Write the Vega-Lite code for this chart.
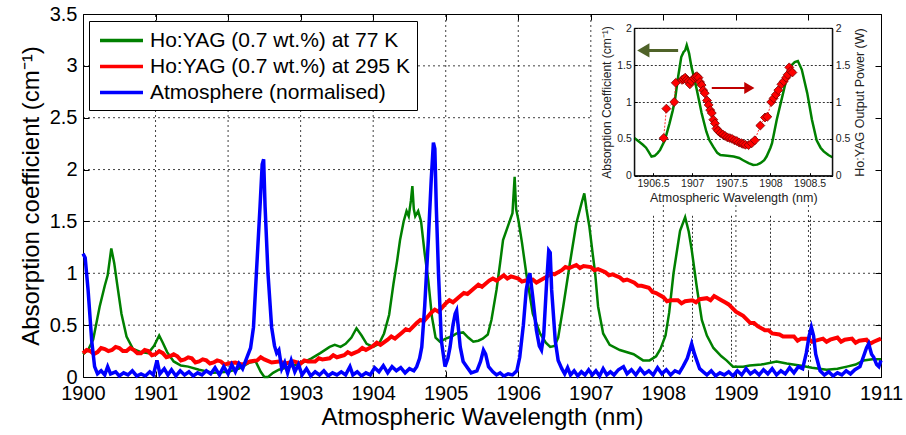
{
"$schema": "https://vega.github.io/schema/vega-lite/v6.json",
"width": 798, "height": 363,
"autosize": {"type": "none"},
"padding": {"left": 83, "top": 14, "right": 25, "bottom": 58},
"background": "white",
"config": {"font": "Liberation Sans", "view": {"stroke": "black", "strokeWidth": 1},
  "axis": {"labelColor": "black", "titleColor": "black", "tickColor": "black", "domainColor": "black", "labelFont": "Liberation Sans", "titleFont": "Liberation Sans", "titleFontWeight": "normal"}},
"datasets": {
"vfull": [{"w":1901},{"w":1902},{"w":1903},{"w":1904},{"w":1905},{"w":1906},{"w":1907}],
"vshort": [{"w":1908},{"w":1909},{"w":1910}],
"hfull": [{"v":0.5},{"v":1},{"v":1.5}],
"hshort": [{"v":2},{"v":2.5},{"v":3}],
"main": [
{"s":"g","w":1900.00,"a":0.22},{"s":"g","w":1900.07,"a":0.26},{"s":"g","w":1900.14,"a":0.36},{"s":"g","w":1900.23,"a":0.68},{"s":"g","w":1900.30,"a":0.88},{"s":"g","w":1900.34,"a":0.98},{"s":"g","w":1900.39,"a":1.24},{"s":"g","w":1900.43,"a":1.10},{"s":"g","w":1900.47,"a":0.90},{"s":"g","w":1900.53,"a":0.61},{"s":"g","w":1900.60,"a":0.39},{"s":"g","w":1900.69,"a":0.27},{"s":"g","w":1900.80,"a":0.24},{"s":"g","w":1900.90,"a":0.23},{"s":"g","w":1900.98,"a":0.30},{"s":"g","w":1901.05,"a":0.40},{"s":"g","w":1901.10,"a":0.33},{"s":"g","w":1901.16,"a":0.24},{"s":"g","w":1901.25,"a":0.15},{"s":"g","w":1901.35,"a":0.11},{"s":"g","w":1901.45,"a":0.10},{"s":"g","w":1901.60,"a":0.07},{"s":"g","w":1901.80,"a":0.04},{"s":"g","w":1902.00,"a":0.05},{"s":"g","w":1902.15,"a":0.08},{"s":"g","w":1902.30,"a":0.14},{"s":"g","w":1902.38,"a":0.15},{"s":"g","w":1902.45,"a":0.05},{"s":"g","w":1902.50,"a":0.00},{"s":"g","w":1902.55,"a":0.00},{"s":"g","w":1902.62,"a":0.04},{"s":"g","w":1902.70,"a":0.07},{"s":"g","w":1902.85,"a":0.10},{"s":"g","w":1903.00,"a":0.13},{"s":"g","w":1903.15,"a":0.18},{"s":"g","w":1903.27,"a":0.23},{"s":"g","w":1903.40,"a":0.29},{"s":"g","w":1903.47,"a":0.31},{"s":"g","w":1903.55,"a":0.29},{"s":"g","w":1903.62,"a":0.32},{"s":"g","w":1903.70,"a":0.38},{"s":"g","w":1903.77,"a":0.47},{"s":"g","w":1903.84,"a":0.40},{"s":"g","w":1903.91,"a":0.32},{"s":"g","w":1904.00,"a":0.29},{"s":"g","w":1904.08,"a":0.32},{"s":"g","w":1904.15,"a":0.42},{"s":"g","w":1904.22,"a":0.60},{"s":"g","w":1904.28,"a":0.90},{"s":"g","w":1904.33,"a":1.12},{"s":"g","w":1904.37,"a":1.32},{"s":"g","w":1904.42,"a":1.50},{"s":"g","w":1904.46,"a":1.60},{"s":"g","w":1904.49,"a":1.55},{"s":"g","w":1904.52,"a":1.70},{"s":"g","w":1904.54,"a":1.84},{"s":"g","w":1904.56,"a":1.62},{"s":"g","w":1904.58,"a":1.55},{"s":"g","w":1904.62,"a":1.60},{"s":"g","w":1904.66,"a":1.50},{"s":"g","w":1904.71,"a":1.19},{"s":"g","w":1904.76,"a":0.93},{"s":"g","w":1904.81,"a":0.58},{"s":"g","w":1904.86,"a":0.38},{"s":"g","w":1904.92,"a":0.34},{"s":"g","w":1905.00,"a":0.37},{"s":"g","w":1905.08,"a":0.39},{"s":"g","w":1905.15,"a":0.42},{"s":"g","w":1905.24,"a":0.43},{"s":"g","w":1905.31,"a":0.38},{"s":"g","w":1905.38,"a":0.34},{"s":"g","w":1905.45,"a":0.35},{"s":"g","w":1905.51,"a":0.37},{"s":"g","w":1905.58,"a":0.41},{"s":"g","w":1905.63,"a":0.55},{"s":"g","w":1905.70,"a":0.84},{"s":"g","w":1905.75,"a":1.10},{"s":"g","w":1905.79,"a":1.32},{"s":"g","w":1905.86,"a":1.46},{"s":"g","w":1905.92,"a":1.58},{"s":"g","w":1905.95,"a":1.93},{"s":"g","w":1905.97,"a":1.62},{"s":"g","w":1906.00,"a":1.52},{"s":"g","w":1906.05,"a":1.30},{"s":"g","w":1906.11,"a":1.00},{"s":"g","w":1906.20,"a":0.61},{"s":"g","w":1906.30,"a":0.42},{"s":"g","w":1906.38,"a":0.33},{"s":"g","w":1906.44,"a":0.29},{"s":"g","w":1906.50,"a":0.30},{"s":"g","w":1906.55,"a":0.38},{"s":"g","w":1906.62,"a":0.68},{"s":"g","w":1906.71,"a":1.09},{"s":"g","w":1906.80,"a":1.48},{"s":"g","w":1906.87,"a":1.67},{"s":"g","w":1906.91,"a":1.77},{"s":"g","w":1906.94,"a":1.62},{"s":"g","w":1906.98,"a":1.45},{"s":"g","w":1907.02,"a":1.22},{"s":"g","w":1907.06,"a":1.00},{"s":"g","w":1907.10,"a":0.68},{"s":"g","w":1907.17,"a":0.42},{"s":"g","w":1907.26,"a":0.31},{"s":"g","w":1907.40,"a":0.26},{"s":"g","w":1907.59,"a":0.22},{"s":"g","w":1907.72,"a":0.16},{"s":"g","w":1907.81,"a":0.16},{"s":"g","w":1907.90,"a":0.20},{"s":"g","w":1907.96,"a":0.27},{"s":"g","w":1908.03,"a":0.40},{"s":"g","w":1908.08,"a":0.62},{"s":"g","w":1908.14,"a":1.00},{"s":"g","w":1908.23,"a":1.41},{"s":"g","w":1908.30,"a":1.54},{"s":"g","w":1908.35,"a":1.40},{"s":"g","w":1908.39,"a":1.23},{"s":"g","w":1908.46,"a":0.87},{"s":"g","w":1908.53,"a":0.55},{"s":"g","w":1908.60,"a":0.40},{"s":"g","w":1908.69,"a":0.28},{"s":"g","w":1908.80,"a":0.20},{"s":"g","w":1908.87,"a":0.16},{"s":"g","w":1908.96,"a":0.10},{"s":"g","w":1909.10,"a":0.10},{"s":"g","w":1909.19,"a":0.11},{"s":"g","w":1909.35,"a":0.12},{"s":"g","w":1909.56,"a":0.15},{"s":"g","w":1909.70,"a":0.13},{"s":"g","w":1909.88,"a":0.11},{"s":"g","w":1910.05,"a":0.09},{"s":"g","w":1910.25,"a":0.07},{"s":"g","w":1910.40,"a":0.08},{"s":"g","w":1910.53,"a":0.10},{"s":"g","w":1910.65,"a":0.12},{"s":"g","w":1910.76,"a":0.16},{"s":"g","w":1910.88,"a":0.17},{"s":"g","w":1911.00,"a":0.17},
{"s":"r","w":1900.0,"a":0.23},{"s":"r","w":1900.05,"a":0.26},{"s":"r","w":1900.1,"a":0.25},{"s":"r","w":1900.15,"a":0.22},{"s":"r","w":1900.2,"a":0.24},{"s":"r","w":1900.25,"a":0.28},{"s":"r","w":1900.3,"a":0.27},{"s":"r","w":1900.35,"a":0.25},{"s":"r","w":1900.4,"a":0.26},{"s":"r","w":1900.45,"a":0.29},{"s":"r","w":1900.5,"a":0.28},{"s":"r","w":1900.55,"a":0.25},{"s":"r","w":1900.6,"a":0.25},{"s":"r","w":1900.65,"a":0.28},{"s":"r","w":1900.7,"a":0.26},{"s":"r","w":1900.75,"a":0.23},{"s":"r","w":1900.8,"a":0.23},{"s":"r","w":1900.85,"a":0.26},{"s":"r","w":1900.9,"a":0.25},{"s":"r","w":1900.95,"a":0.21},{"s":"r","w":1901.0,"a":0.22},{"s":"r","w":1901.05,"a":0.25},{"s":"r","w":1901.1,"a":0.23},{"s":"r","w":1901.15,"a":0.19},{"s":"r","w":1901.2,"a":0.20},{"s":"r","w":1901.25,"a":0.22},{"s":"r","w":1901.3,"a":0.20},{"s":"r","w":1901.35,"a":0.16},{"s":"r","w":1901.4,"a":0.17},{"s":"r","w":1901.45,"a":0.19},{"s":"r","w":1901.5,"a":0.18},{"s":"r","w":1901.55,"a":0.14},{"s":"r","w":1901.6,"a":0.15},{"s":"r","w":1901.65,"a":0.17},{"s":"r","w":1901.7,"a":0.16},{"s":"r","w":1901.75,"a":0.13},{"s":"r","w":1901.8,"a":0.14},{"s":"r","w":1901.85,"a":0.16},{"s":"r","w":1901.9,"a":0.15},{"s":"r","w":1901.95,"a":0.12},{"s":"r","w":1902.0,"a":0.13},{"s":"r","w":1902.1,"a":0.14},{"s":"r","w":1902.2,"a":0.12},{"s":"r","w":1902.3,"a":0.15},{"s":"r","w":1902.4,"a":0.16},{"s":"r","w":1902.45,"a":0.19},{"s":"r","w":1902.5,"a":0.17},{"s":"r","w":1902.6,"a":0.14},{"s":"r","w":1902.7,"a":0.15},{"s":"r","w":1902.8,"a":0.13},{"s":"r","w":1902.9,"a":0.15},{"s":"r","w":1903.0,"a":0.13},{"s":"r","w":1903.05,"a":0.16},{"s":"r","w":1903.1,"a":0.15},{"s":"r","w":1903.2,"a":0.15},{"s":"r","w":1903.25,"a":0.18},{"s":"r","w":1903.3,"a":0.17},{"s":"r","w":1903.4,"a":0.18},{"s":"r","w":1903.45,"a":0.21},{"s":"r","w":1903.5,"a":0.19},{"s":"r","w":1903.6,"a":0.21},{"s":"r","w":1903.65,"a":0.24},{"s":"r","w":1903.7,"a":0.22},{"s":"r","w":1903.8,"a":0.25},{"s":"r","w":1903.85,"a":0.28},{"s":"r","w":1903.9,"a":0.26},{"s":"r","w":1904.0,"a":0.30},{"s":"r","w":1904.05,"a":0.33},{"s":"r","w":1904.1,"a":0.31},{"s":"r","w":1904.2,"a":0.36},{"s":"r","w":1904.25,"a":0.39},{"s":"r","w":1904.3,"a":0.37},{"s":"r","w":1904.4,"a":0.43},{"s":"r","w":1904.45,"a":0.46},{"s":"r","w":1904.5,"a":0.45},{"s":"r","w":1904.6,"a":0.52},{"s":"r","w":1904.65,"a":0.55},{"s":"r","w":1904.7,"a":0.54},{"s":"r","w":1904.8,"a":0.62},{"s":"r","w":1904.85,"a":0.65},{"s":"r","w":1904.9,"a":0.63},{"s":"r","w":1905.0,"a":0.71},{"s":"r","w":1905.05,"a":0.74},{"s":"r","w":1905.1,"a":0.72},{"s":"r","w":1905.2,"a":0.78},{"s":"r","w":1905.25,"a":0.81},{"s":"r","w":1905.3,"a":0.80},{"s":"r","w":1905.4,"a":0.86},{"s":"r","w":1905.45,"a":0.89},{"s":"r","w":1905.5,"a":0.87},{"s":"r","w":1905.6,"a":0.93},{"s":"r","w":1905.65,"a":0.95},{"s":"r","w":1905.7,"a":0.93},{"s":"r","w":1905.8,"a":0.98},{"s":"r","w":1905.85,"a":0.95},{"s":"r","w":1905.9,"a":0.97},{"s":"r","w":1906.0,"a":0.95},{"s":"r","w":1906.05,"a":0.92},{"s":"r","w":1906.1,"a":0.93},{"s":"r","w":1906.2,"a":0.94},{"s":"r","w":1906.25,"a":0.91},{"s":"r","w":1906.3,"a":0.93},{"s":"r","w":1906.4,"a":0.97},{"s":"r","w":1906.45,"a":1.00},{"s":"r","w":1906.5,"a":0.99},{"s":"r","w":1906.6,"a":1.03},{"s":"r","w":1906.65,"a":1.06},{"s":"r","w":1906.7,"a":1.05},{"s":"r","w":1906.8,"a":1.08},{"s":"r","w":1906.85,"a":1.05},{"s":"r","w":1906.9,"a":1.07},{"s":"r","w":1907.0,"a":1.06},{"s":"r","w":1907.05,"a":1.03},{"s":"r","w":1907.1,"a":1.04},{"s":"r","w":1907.2,"a":1.01},{"s":"r","w":1907.25,"a":0.98},{"s":"r","w":1907.3,"a":0.99},{"s":"r","w":1907.4,"a":0.96},{"s":"r","w":1907.45,"a":0.93},{"s":"r","w":1907.5,"a":0.94},{"s":"r","w":1907.6,"a":0.91},{"s":"r","w":1907.65,"a":0.88},{"s":"r","w":1907.7,"a":0.88},{"s":"r","w":1907.8,"a":0.86},{"s":"r","w":1907.85,"a":0.82},{"s":"r","w":1907.9,"a":0.81},{"s":"r","w":1908.0,"a":0.77},{"s":"r","w":1908.05,"a":0.73},{"s":"r","w":1908.1,"a":0.74},{"s":"r","w":1908.2,"a":0.74},{"s":"r","w":1908.25,"a":0.71},{"s":"r","w":1908.3,"a":0.73},{"s":"r","w":1908.4,"a":0.74},{"s":"r","w":1908.45,"a":0.72},{"s":"r","w":1908.5,"a":0.75},{"s":"r","w":1908.6,"a":0.76},{"s":"r","w":1908.65,"a":0.74},{"s":"r","w":1908.7,"a":0.78},{"s":"r","w":1908.8,"a":0.74},{"s":"r","w":1908.85,"a":0.72},{"s":"r","w":1908.9,"a":0.70},{"s":"r","w":1909.0,"a":0.63},{"s":"r","w":1909.05,"a":0.61},{"s":"r","w":1909.1,"a":0.59},{"s":"r","w":1909.2,"a":0.52},{"s":"r","w":1909.25,"a":0.52},{"s":"r","w":1909.3,"a":0.49},{"s":"r","w":1909.4,"a":0.45},{"s":"r","w":1909.45,"a":0.45},{"s":"r","w":1909.5,"a":0.42},{"s":"r","w":1909.6,"a":0.41},{"s":"r","w":1909.65,"a":0.39},{"s":"r","w":1909.7,"a":0.39},{"s":"r","w":1909.8,"a":0.39},{"s":"r","w":1909.85,"a":0.35},{"s":"r","w":1909.9,"a":0.37},{"s":"r","w":1910.0,"a":0.37},{"s":"r","w":1910.05,"a":0.34},{"s":"r","w":1910.1,"a":0.35},{"s":"r","w":1910.2,"a":0.37},{"s":"r","w":1910.25,"a":0.34},{"s":"r","w":1910.3,"a":0.36},{"s":"r","w":1910.4,"a":0.38},{"s":"r","w":1910.45,"a":0.34},{"s":"r","w":1910.5,"a":0.36},{"s":"r","w":1910.6,"a":0.37},{"s":"r","w":1910.65,"a":0.33},{"s":"r","w":1910.7,"a":0.35},{"s":"r","w":1910.8,"a":0.36},{"s":"r","w":1910.85,"a":0.32},{"s":"r","w":1910.9,"a":0.34},{"s":"r","w":1911.0,"a":0.37},
{"s":"b","w":1900.00,"a":1.19},{"s":"b","w":1900.03,"a":1.15},{"s":"b","w":1900.07,"a":0.84},{"s":"b","w":1900.12,"a":0.35},{"s":"b","w":1900.16,"a":0.10},{"s":"b","w":1900.20,"a":0.03},{"s":"b","w":1900.25,"a":0.06},{"s":"b","w":1900.30,"a":0.02},{"s":"b","w":1900.34,"a":0.10},{"s":"b","w":1900.38,"a":0.03},{"s":"b","w":1900.45,"a":0.05},{"s":"b","w":1900.50,"a":0.01},{"s":"b","w":1900.56,"a":0.04},{"s":"b","w":1900.62,"a":0.02},{"s":"b","w":1900.68,"a":0.06},{"s":"b","w":1900.74,"a":0.01},{"s":"b","w":1900.80,"a":0.03},{"s":"b","w":1900.86,"a":0.01},{"s":"b","w":1900.92,"a":0.05},{"s":"b","w":1900.97,"a":0.02},{"s":"b","w":1901.02,"a":0.16},{"s":"b","w":1901.06,"a":0.03},{"s":"b","w":1901.12,"a":0.08},{"s":"b","w":1901.17,"a":0.02},{"s":"b","w":1901.22,"a":0.07},{"s":"b","w":1901.28,"a":0.01},{"s":"b","w":1901.34,"a":0.06},{"s":"b","w":1901.40,"a":0.02},{"s":"b","w":1901.46,"a":0.05},{"s":"b","w":1901.52,"a":0.01},{"s":"b","w":1901.58,"a":0.04},{"s":"b","w":1901.64,"a":0.02},{"s":"b","w":1901.70,"a":0.06},{"s":"b","w":1901.76,"a":0.03},{"s":"b","w":1901.82,"a":0.09},{"s":"b","w":1901.88,"a":0.02},{"s":"b","w":1901.94,"a":0.10},{"s":"b","w":1902.00,"a":0.03},{"s":"b","w":1902.05,"a":0.12},{"s":"b","w":1902.10,"a":0.05},{"s":"b","w":1902.15,"a":0.13},{"s":"b","w":1902.20,"a":0.08},{"s":"b","w":1902.26,"a":0.19},{"s":"b","w":1902.31,"a":0.28},{"s":"b","w":1902.35,"a":0.48},{"s":"b","w":1902.39,"a":1.00},{"s":"b","w":1902.44,"a":1.64},{"s":"b","w":1902.47,"a":2.05},{"s":"b","w":1902.49,"a":2.10},{"s":"b","w":1902.51,"a":1.64},{"s":"b","w":1902.55,"a":1.00},{"s":"b","w":1902.60,"a":0.48},{"s":"b","w":1902.64,"a":0.30},{"s":"b","w":1902.67,"a":0.23},{"s":"b","w":1902.70,"a":0.26},{"s":"b","w":1902.74,"a":0.08},{"s":"b","w":1902.78,"a":0.14},{"s":"b","w":1902.82,"a":0.04},{"s":"b","w":1902.87,"a":0.16},{"s":"b","w":1902.92,"a":0.05},{"s":"b","w":1902.97,"a":0.12},{"s":"b","w":1903.02,"a":0.02},{"s":"b","w":1903.08,"a":0.08},{"s":"b","w":1903.14,"a":0.01},{"s":"b","w":1903.20,"a":0.05},{"s":"b","w":1903.26,"a":0.02},{"s":"b","w":1903.32,"a":0.06},{"s":"b","w":1903.38,"a":0.01},{"s":"b","w":1903.44,"a":0.04},{"s":"b","w":1903.50,"a":0.02},{"s":"b","w":1903.56,"a":0.05},{"s":"b","w":1903.62,"a":0.02},{"s":"b","w":1903.68,"a":0.10},{"s":"b","w":1903.72,"a":0.02},{"s":"b","w":1903.78,"a":0.05},{"s":"b","w":1903.84,"a":0.01},{"s":"b","w":1903.90,"a":0.04},{"s":"b","w":1903.96,"a":0.02},{"s":"b","w":1904.02,"a":0.09},{"s":"b","w":1904.08,"a":0.05},{"s":"b","w":1904.14,"a":0.11},{"s":"b","w":1904.20,"a":0.04},{"s":"b","w":1904.26,"a":0.10},{"s":"b","w":1904.32,"a":0.06},{"s":"b","w":1904.38,"a":0.09},{"s":"b","w":1904.44,"a":0.04},{"s":"b","w":1904.50,"a":0.08},{"s":"b","w":1904.56,"a":0.06},{"s":"b","w":1904.60,"a":0.10},{"s":"b","w":1904.64,"a":0.18},{"s":"b","w":1904.67,"a":0.29},{"s":"b","w":1904.71,"a":0.68},{"s":"b","w":1904.76,"a":1.32},{"s":"b","w":1904.80,"a":1.90},{"s":"b","w":1904.83,"a":2.26},{"s":"b","w":1904.85,"a":2.20},{"s":"b","w":1904.87,"a":1.64},{"s":"b","w":1904.90,"a":1.00},{"s":"b","w":1904.94,"a":0.35},{"s":"b","w":1904.99,"a":0.10},{"s":"b","w":1905.03,"a":0.18},{"s":"b","w":1905.06,"a":0.29},{"s":"b","w":1905.10,"a":0.50},{"s":"b","w":1905.13,"a":0.61},{"s":"b","w":1905.15,"a":0.64},{"s":"b","w":1905.17,"a":0.50},{"s":"b","w":1905.20,"a":0.29},{"s":"b","w":1905.24,"a":0.15},{"s":"b","w":1905.29,"a":0.10},{"s":"b","w":1905.35,"a":0.04},{"s":"b","w":1905.43,"a":0.06},{"s":"b","w":1905.48,"a":0.15},{"s":"b","w":1905.52,"a":0.26},{"s":"b","w":1905.55,"a":0.22},{"s":"b","w":1905.59,"a":0.10},{"s":"b","w":1905.65,"a":0.05},{"s":"b","w":1905.70,"a":0.02},{"s":"b","w":1905.75,"a":0.04},{"s":"b","w":1905.80,"a":0.01},{"s":"b","w":1905.86,"a":0.03},{"s":"b","w":1905.92,"a":0.02},{"s":"b","w":1905.98,"a":0.06},{"s":"b","w":1906.02,"a":0.19},{"s":"b","w":1906.07,"a":0.50},{"s":"b","w":1906.11,"a":0.84},{"s":"b","w":1906.14,"a":0.96},{"s":"b","w":1906.16,"a":1.00},{"s":"b","w":1906.20,"a":0.77},{"s":"b","w":1906.25,"a":0.45},{"s":"b","w":1906.29,"a":0.30},{"s":"b","w":1906.32,"a":0.26},{"s":"b","w":1906.35,"a":0.40},{"s":"b","w":1906.39,"a":0.90},{"s":"b","w":1906.42,"a":1.22},{"s":"b","w":1906.44,"a":1.20},{"s":"b","w":1906.46,"a":0.84},{"s":"b","w":1906.51,"a":0.35},{"s":"b","w":1906.55,"a":0.16},{"s":"b","w":1906.60,"a":0.08},{"s":"b","w":1906.64,"a":0.03},{"s":"b","w":1906.68,"a":0.09},{"s":"b","w":1906.72,"a":0.02},{"s":"b","w":1906.77,"a":0.06},{"s":"b","w":1906.82,"a":0.01},{"s":"b","w":1906.87,"a":0.05},{"s":"b","w":1906.92,"a":0.02},{"s":"b","w":1906.97,"a":0.07},{"s":"b","w":1907.02,"a":0.02},{"s":"b","w":1907.07,"a":0.06},{"s":"b","w":1907.12,"a":0.01},{"s":"b","w":1907.17,"a":0.08},{"s":"b","w":1907.22,"a":0.02},{"s":"b","w":1907.27,"a":0.05},{"s":"b","w":1907.32,"a":0.02},{"s":"b","w":1907.38,"a":0.07},{"s":"b","w":1907.45,"a":0.10},{"s":"b","w":1907.50,"a":0.03},{"s":"b","w":1907.56,"a":0.07},{"s":"b","w":1907.62,"a":0.02},{"s":"b","w":1907.68,"a":0.08},{"s":"b","w":1907.74,"a":0.03},{"s":"b","w":1907.80,"a":0.06},{"s":"b","w":1907.86,"a":0.02},{"s":"b","w":1907.92,"a":0.09},{"s":"b","w":1907.98,"a":0.03},{"s":"b","w":1908.04,"a":0.07},{"s":"b","w":1908.10,"a":0.02},{"s":"b","w":1908.16,"a":0.06},{"s":"b","w":1908.22,"a":0.04},{"s":"b","w":1908.27,"a":0.10},{"s":"b","w":1908.33,"a":0.18},{"s":"b","w":1908.39,"a":0.32},{"s":"b","w":1908.43,"a":0.22},{"s":"b","w":1908.46,"a":0.16},{"s":"b","w":1908.50,"a":0.08},{"s":"b","w":1908.55,"a":0.05},{"s":"b","w":1908.60,"a":0.02},{"s":"b","w":1908.66,"a":0.06},{"s":"b","w":1908.72,"a":0.01},{"s":"b","w":1908.78,"a":0.04},{"s":"b","w":1908.84,"a":0.02},{"s":"b","w":1908.90,"a":0.05},{"s":"b","w":1908.96,"a":0.01},{"s":"b","w":1909.02,"a":0.06},{"s":"b","w":1909.08,"a":0.02},{"s":"b","w":1909.14,"a":0.08},{"s":"b","w":1909.20,"a":0.03},{"s":"b","w":1909.26,"a":0.06},{"s":"b","w":1909.32,"a":0.02},{"s":"b","w":1909.38,"a":0.07},{"s":"b","w":1909.44,"a":0.03},{"s":"b","w":1909.50,"a":0.08},{"s":"b","w":1909.56,"a":0.02},{"s":"b","w":1909.62,"a":0.06},{"s":"b","w":1909.68,"a":0.03},{"s":"b","w":1909.74,"a":0.09},{"s":"b","w":1909.80,"a":0.04},{"s":"b","w":1909.86,"a":0.10},{"s":"b","w":1909.92,"a":0.08},{"s":"b","w":1909.97,"a":0.23},{"s":"b","w":1910.01,"a":0.40},{"s":"b","w":1910.04,"a":0.48},{"s":"b","w":1910.07,"a":0.40},{"s":"b","w":1910.10,"a":0.22},{"s":"b","w":1910.16,"a":0.06},{"s":"b","w":1910.22,"a":0.02},{"s":"b","w":1910.28,"a":0.05},{"s":"b","w":1910.34,"a":0.01},{"s":"b","w":1910.40,"a":0.04},{"s":"b","w":1910.46,"a":0.02},{"s":"b","w":1910.52,"a":0.06},{"s":"b","w":1910.58,"a":0.03},{"s":"b","w":1910.64,"a":0.07},{"s":"b","w":1910.71,"a":0.10},{"s":"b","w":1910.76,"a":0.20},{"s":"b","w":1910.80,"a":0.28},{"s":"b","w":1910.83,"a":0.32},{"s":"b","w":1910.87,"a":0.22},{"s":"b","w":1910.90,"a":0.19},{"s":"b","w":1910.94,"a":0.12},{"s":"b","w":1910.97,"a":0.10},{"s":"b","w":1911.00,"a":0.16}
],
"inset": [
{"w":1906.26,"a":0.51},{"w":1906.31,"a":0.47},{"w":1906.37,"a":0.42},{"w":1906.41,"a":0.38},{"w":1906.44,"a":0.33},{"w":1906.48,"a":0.26},{"w":1906.52,"a":0.27},{"w":1906.56,"a":0.31},{"w":1906.59,"a":0.35},{"w":1906.65,"a":0.48},{"w":1906.71,"a":0.71},{"w":1906.75,"a":0.88},{"w":1906.78,"a":1.03},{"w":1906.82,"a":1.34},{"w":1906.86,"a":1.61},{"w":1906.89,"a":1.68},{"w":1906.91,"a":1.70},{"w":1906.93,"a":1.77},{"w":1906.96,"a":1.66},{"w":1906.99,"a":1.48},{"w":1907.03,"a":1.30},{"w":1907.06,"a":1.16},{"w":1907.12,"a":0.85},{"w":1907.18,"a":0.60},{"w":1907.22,"a":0.48},{"w":1907.27,"a":0.39},{"w":1907.32,"a":0.31},{"w":1907.36,"a":0.28},{"w":1907.45,"a":0.27},{"w":1907.53,"a":0.26},{"w":1907.60,"a":0.24},{"w":1907.65,"a":0.21},{"w":1907.72,"a":0.17},{"w":1907.78,"a":0.145},{"w":1907.83,"a":0.15},{"w":1907.87,"a":0.17},{"w":1907.92,"a":0.21},{"w":1907.95,"a":0.26},{"w":1908.00,"a":0.38},{"w":1908.02,"a":0.44},{"w":1908.08,"a":0.76},{"w":1908.15,"a":1.07},{"w":1908.21,"a":1.34},{"w":1908.27,"a":1.50},{"w":1908.31,"a":1.54},{"w":1908.35,"a":1.556},{"w":1908.40,"a":1.44},{"w":1908.47,"a":1.12},{"w":1908.53,"a":0.76},{"w":1908.59,"a":0.48},{"w":1908.64,"a":0.38},{"w":1908.68,"a":0.33},{"w":1908.74,"a":0.28},{"w":1908.79,"a":0.25}
],
"power": [
{"w":1906.635,"p":0.51},{"w":1906.67,"p":0.91},{"w":1906.77,"p":1.00},{"w":1906.79,"p":1.26},{"w":1906.87,"p":1.30},{"w":1906.89,"p":1.31},{"w":1906.91,"p":1.33},{"w":1906.93,"p":1.30},{"w":1906.95,"p":1.28},{"w":1906.97,"p":1.24},{"w":1906.99,"p":1.28},{"w":1907.02,"p":1.32},{"w":1907.04,"p":1.34},{"w":1907.06,"p":1.35},{"w":1907.08,"p":1.33},{"w":1907.10,"p":1.27},{"w":1907.12,"p":1.23},{"w":1907.14,"p":1.16},{"w":1907.16,"p":1.12},{"w":1907.19,"p":1.02},{"w":1907.21,"p":0.96},{"w":1907.23,"p":0.89},{"w":1907.25,"p":0.85},{"w":1907.27,"p":0.76},{"w":1907.29,"p":0.71},{"w":1907.31,"p":0.64},{"w":1907.33,"p":0.61},{"w":1907.36,"p":0.58},{"w":1907.39,"p":0.56},{"w":1907.42,"p":0.54},{"w":1907.45,"p":0.52},{"w":1907.48,"p":0.51},{"w":1907.51,"p":0.50},{"w":1907.54,"p":0.48},{"w":1907.57,"p":0.47},{"w":1907.60,"p":0.45},{"w":1907.63,"p":0.44},{"w":1907.65,"p":0.43},{"w":1907.68,"p":0.42},{"w":1907.72,"p":0.415},{"w":1907.76,"p":0.44},{"w":1907.80,"p":0.48},{"w":1907.87,"p":0.68},{"w":1907.93,"p":0.79},{"w":1907.96,"p":0.80},{"w":1908.01,"p":1.00},{"w":1908.04,"p":1.05},{"w":1908.07,"p":1.10},{"w":1908.10,"p":1.16},{"w":1908.14,"p":1.24},{"w":1908.17,"p":1.28},{"w":1908.20,"p":1.33},{"w":1908.22,"p":1.37},{"w":1908.24,"p":1.47},{"w":1908.26,"p":1.42},{"w":1908.28,"p":1.40}
]
},
"layer": [
 {
  "layer": [
   {
    "data": {"name": "vfull"},
    "mark": {"type": "rule", "color": "black", "strokeDash": [2, 3], "strokeWidth": 1, "opacity": 0.75},
    "encoding": {
     "x": {"field": "w", "type": "quantitative", "scale": {"domain": [1900, 1911], "nice": false, "zero": false}, "axis": null},
     "y": {"datum": 0, "type": "quantitative", "scale": {"domain": [0, 3.5], "nice": false}, "axis": null},
     "y2": {"datum": 3.5}
    }
   },
   {
    "data": {"name": "vshort"},
    "mark": {"type": "rule", "color": "black", "strokeDash": [2, 3], "strokeWidth": 1, "opacity": 0.75},
    "encoding": {
     "x": {"field": "w", "type": "quantitative", "scale": {"domain": [1900, 1911], "nice": false, "zero": false}, "axis": null},
     "y": {"datum": 0, "type": "quantitative", "scale": {"domain": [0, 3.5], "nice": false}, "axis": null},
     "y2": {"datum": 1.66}
    }
   },
   {
    "data": {"name": "hfull"},
    "mark": {"type": "rule", "color": "black", "strokeDash": [2, 3], "strokeWidth": 1, "opacity": 0.75},
    "encoding": {
     "y": {"field": "v", "type": "quantitative", "scale": {"domain": [0, 3.5], "nice": false}, "axis": null},
     "x": {"datum": 1900, "type": "quantitative", "scale": {"domain": [1900, 1911], "nice": false, "zero": false}, "axis": null},
     "x2": {"datum": 1911}
    }
   },
   {
    "data": {"name": "hshort"},
    "mark": {"type": "rule", "color": "black", "strokeDash": [2, 3], "strokeWidth": 1, "opacity": 0.75},
    "encoding": {
     "y": {"field": "v", "type": "quantitative", "scale": {"domain": [0, 3.5], "nice": false}, "axis": null},
     "x": {"datum": 1900, "type": "quantitative", "scale": {"domain": [1900, 1911], "nice": false, "zero": false}, "axis": null},
     "x2": {"datum": 1907.02}
    }
   },
   {
    "data": {"name": "main"},
    "transform": [{"filter": {"field": "s", "equal": "g"}}],
    "mark": {"type": "line", "strokeWidth": 2.5},
    "encoding": {
     "x": {"field": "w", "type": "quantitative", "scale": {"domain": [1900, 1911], "nice": false, "zero": false},
       "axis": {"orient": "bottom", "values": [1900,1901,1902,1903,1904,1905,1906,1907,1908,1909,1910,1911], "format": "d", "labelFontSize": 20, "title": "Atmospheric Wavelength (nm)", "titleFontSize": 24, "titlePadding": 2, "domain": false, "tickSize": -6, "labelPadding": 12, "labelFlush": false, "grid": false}},
     "y": {"field": "a", "type": "quantitative", "scale": {"domain": [0, 3.5], "nice": false},
       "axis": {"orient": "left", "values": [0,0.5,1,1.5,2,2.5,3,3.5], "format": "~f", "labelFontSize": 20, "title": "Absorption coefficient (cm⁻¹)", "titleFontSize": 24, "titlePadding": 6, "domain": false, "tickSize": -6, "labelPadding": 12, "labelFlush": false, "grid": false}},
     "color": {"field": "s", "type": "nominal", "scale": {"domain": ["g", "r", "b"], "range": ["#008000", "#ff0000", "#0000ff"]},
       "legend": {"orient": "none", "legendX": 6, "legendY": 7, "title": null, "fillColor": "white", "strokeColor": "black", "padding": 7, "symbolType": "M-2,0L2,0", "symbolSize": 462, "symbolStrokeWidth": 3.5, "symbolOffset": 13, "labelOffset": 16, "labelFontSize": 21, "labelColor": "black", "labelLimit": 0, "rowPadding": 3, "labelExpr": "datum.value === 'g' ? 'Ho:YAG (0.7 wt.%) at 77 K' : datum.value === 'r' ? 'Ho:YAG (0.7 wt.%) at 295 K' : 'Atmosphere (normalised)'"}}
    }
   },
   {
    "data": {"name": "main"},
    "transform": [{"filter": {"field": "s", "equal": "r"}}],
    "mark": {"type": "line", "strokeWidth": 4},
    "encoding": {
     "x": {"field": "w", "type": "quantitative", "scale": {"domain": [1900, 1911], "nice": false, "zero": false}, "axis": null},
     "y": {"field": "a", "type": "quantitative", "scale": {"domain": [0, 3.5], "nice": false}, "axis": null},
     "color": {"field": "s", "type": "nominal", "scale": {"domain": ["g", "r", "b"], "range": ["#008000", "#ff0000", "#0000ff"]}}
    }
   },
   {
    "data": {"name": "main"},
    "transform": [{"filter": {"field": "s", "equal": "b"}}],
    "mark": {"type": "line", "strokeWidth": 3.5},
    "encoding": {
     "x": {"field": "w", "type": "quantitative", "scale": {"domain": [1900, 1911], "nice": false, "zero": false}, "axis": null},
     "y": {"field": "a", "type": "quantitative", "scale": {"domain": [0, 3.5], "nice": false}, "axis": null},
     "color": {"field": "s", "type": "nominal", "scale": {"domain": ["g", "r", "b"], "range": ["#008000", "#ff0000", "#0000ff"]}}
    }
   },
   {
    "data": {"values": [{}]},
    "mark": {"type": "rect", "opacity": 0},
    "encoding": {
     "x": {"datum": 1907.03, "type": "quantitative", "scale": {"domain": [1900, 1911], "nice": false, "zero": false},
       "axis": {"orient": "top", "values": [1900,1901,1902,1903,1904,1905,1906,1907,1908,1909,1910,1911], "labels": false, "title": null, "domain": false, "grid": false, "tickSize": -6}},
     "x2": {"datum": 1910.99},
     "y": {"datum": 1.66, "type": "quantitative", "scale": {"domain": [0, 3.5], "nice": false},
       "axis": {"orient": "right", "values": [0,0.5,1,1.5,2,2.5,3,3.5], "labels": false, "title": null, "domain": false, "grid": false, "tickSize": -6}},
     "y2": {"datum": 3.49}
    }
   }
  ],
  "resolve": {"axis": {"x": "independent", "y": "independent"}}
 },
 {
  "layer": [
   {
    "layer": [
     {
      "data": {"name": "inset"},
      "mark": {"type": "line", "strokeWidth": 2.5, "color": "#008000"},
      "encoding": {
       "x": {"field": "w", "type": "quantitative", "scale": {"domain": [1906.26, 1908.79], "range": [551.3, 749.3], "nice": false, "zero": false},
         "axis": {"orient": "bottom", "offset": -201.3, "values": [1906.5, 1907, 1907.5, 1908, 1908.5], "format": "~f", "labelFontSize": 10.5, "labelColor": "#222", "title": "Atmospheric Wavelength (nm)", "titleFontSize": 12.5, "titleColor": "#222", "titlePadding": 2, "domain": true, "tickSize": -3, "labelPadding": 6, "grid": true, "gridColor": "black", "gridDash": [2, 2], "gridOpacity": 0.8}},
       "y": {"field": "a", "type": "quantitative", "scale": {"domain": [0, 2], "range": [161.7, 14.3], "nice": false},
         "axis": {"orient": "left", "offset": -551.3, "values": [0, 0.5, 1, 1.5, 2], "format": "~f", "labelFontSize": 10.5, "labelColor": "#222", "title": "Absorption Coefficient (cm⁻¹)", "titleFontSize": 12, "titleColor": "#222", "titlePadding": 3, "domain": true, "tickSize": -3, "labelPadding": 6, "grid": true, "gridColor": "black", "gridDash": [2, 2], "gridOpacity": 0.8}}
      }
     },
     {
      "data": {"values": [{}]},
      "mark": {"type": "rule", "color": "#4f6228", "strokeWidth": 3},
      "encoding": {
       "x": {"datum": 1906.38, "type": "quantitative", "scale": {"domain": [1906.26, 1908.79], "range": [551.3, 749.3], "nice": false, "zero": false}, "axis": null},
       "x2": {"datum": 1906.82},
       "y": {"datum": 1.70, "type": "quantitative", "scale": {"domain": [0, 2], "range": [161.7, 14.3], "nice": false}, "axis": null}
      }
     },
     {
      "data": {"values": [{}]},
      "mark": {"type": "point", "shape": "triangle-left", "filled": true, "color": "#4f6228", "size": 200, "opacity": 1},
      "encoding": {
       "x": {"datum": 1906.375, "type": "quantitative", "scale": {"domain": [1906.26, 1908.79], "range": [551.3, 749.3], "nice": false, "zero": false}, "axis": null},
       "y": {"datum": 1.70, "type": "quantitative", "scale": {"domain": [0, 2], "range": [161.7, 14.3], "nice": false}, "axis": null}
      }
     },
     {
      "data": {"values": [{}]},
      "mark": {"type": "rule", "color": "#c00000", "strokeWidth": 2},
      "encoding": {
       "x": {"datum": 1907.25, "type": "quantitative", "scale": {"domain": [1906.26, 1908.79], "range": [551.3, 749.3], "nice": false, "zero": false}, "axis": null},
       "x2": {"datum": 1907.72},
       "y": {"datum": 1.19, "type": "quantitative", "scale": {"domain": [0, 2], "range": [161.7, 14.3], "nice": false}, "axis": null}
      }
     },
     {
      "data": {"values": [{}]},
      "mark": {"type": "point", "shape": "triangle-right", "filled": true, "color": "#c00000", "size": 140, "opacity": 1},
      "encoding": {
       "x": {"datum": 1907.73, "type": "quantitative", "scale": {"domain": [1906.26, 1908.79], "range": [551.3, 749.3], "nice": false, "zero": false}, "axis": null},
       "y": {"datum": 1.19, "type": "quantitative", "scale": {"domain": [0, 2], "range": [161.7, 14.3], "nice": false}, "axis": null}
      }
     },
     {
      "data": {"values": [{}]},
      "mark": {"type": "rect", "fillOpacity": 0, "stroke": "black", "strokeWidth": 1},
      "encoding": {
       "x": {"datum": 1906.26, "type": "quantitative", "scale": {"domain": [1906.26, 1908.79], "range": [551.3, 749.3], "nice": false, "zero": false}, "axis": null},
       "x2": {"datum": 1908.79},
       "y": {"datum": 0, "type": "quantitative", "scale": {"domain": [0, 2], "range": [161.7, 14.3], "nice": false}, "axis": null},
       "y2": {"datum": 2}
      }
     }
    ],
    "resolve": {"axis": {"x": "independent", "y": "independent"}}
   },
   {
    "layer": [
     {
      "data": {"name": "power"},
      "mark": {"type": "line", "strokeWidth": 0.8, "color": "#ff0000", "strokeDash": [2, 1.5]},
      "encoding": {
       "x": {"field": "w", "type": "quantitative", "scale": {"domain": [1906.26, 1908.79], "range": [551.3, 749.3], "nice": false, "zero": false}, "axis": null},
       "y": {"field": "p", "type": "quantitative", "scale": {"domain": [0, 2], "range": [161.7, 14.3], "nice": false},
         "axis": {"orient": "right", "offset": -48.7, "values": [0, 0.5, 1, 1.5, 2], "format": "~f", "labelFontSize": 10.5, "labelColor": "#222", "title": "Ho:YAG Output Power (W)", "titleFontSize": 12.5, "titleColor": "#222", "titleAngle": 270, "titlePadding": 17, "domain": true, "tickSize": -3, "labelPadding": 6, "grid": false}}
      }
     },
     {
      "data": {"name": "power"},
      "mark": {"type": "point", "shape": "diamond", "filled": true, "fill": "#ff0000", "stroke": "#7a0000", "strokeWidth": 0.8, "size": 80, "opacity": 1},
      "encoding": {
       "x": {"field": "w", "type": "quantitative", "scale": {"domain": [1906.26, 1908.79], "range": [551.3, 749.3], "nice": false, "zero": false}, "axis": null},
       "y": {"field": "p", "type": "quantitative", "scale": {"domain": [0, 2], "range": [161.7, 14.3], "nice": false}, "axis": null}
      }
     }
    ],
    "resolve": {"axis": {"x": "independent", "y": "independent"}}
   }
  ],
  "resolve": {"scale": {"y": "independent"}, "axis": {"x": "independent", "y": "independent"}}
 }
],
"resolve": {"scale": {"x": "independent", "y": "independent"}, "axis": {"x": "independent", "y": "independent"}}
}
